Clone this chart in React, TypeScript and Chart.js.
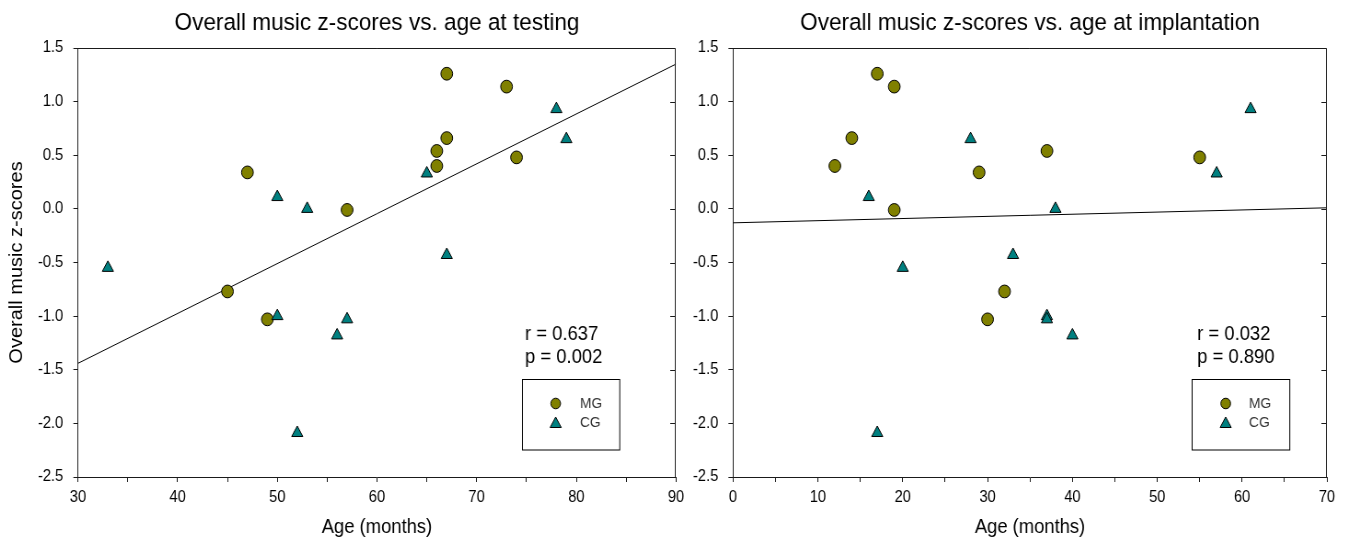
import React, { useEffect, useRef } from "react";
import { Chart, registerables } from "chart.js";

Chart.register(...registerables);

const FONT_FAMILY = "'Liberation Sans', Arial, Helvetica, sans-serif";
const OLIVE = "#808000";
const TEAL = "#008080";
const INK = "#1a1a1a";

// Music group (MG): overall z-score with age at testing / at implantation (months)
const mgScores = [1.26, 1.14, 0.66, 0.54, 0.48, 0.4, 0.34, -0.01, -0.77, -1.03];
const mgAgeTesting = [67, 73, 67, 66, 74, 66, 47, 57, 45, 49];
const mgAgeImplant = [17, 19, 14, 37, 55, 12, 29, 19, 32, 30];

// Control group (CG)
const cgScores = [-0.55, 0.11, 0.0, 0.33, -0.43, 0.93, 0.65, -1.0, -1.18, -1.03, -2.09];
const cgAgeTesting = [33, 50, 53, 65, 67, 78, 79, 50, 56, 57, 52];
const cgAgeImplant = [20, 16, 38, 57, 33, 61, 28, 37, 40, 37, 17];

// Regression line end points
const fitTestingAge = [30, 90];
const fitTestingScore = [-1.44, 1.35];
const fitImplantAge = [0, 70];
const fitImplantScore = [-0.13, 0.01];

const testingStats = ["r = 0.637", "p = 0.002"];
const implantStats = ["r = 0.032", "p = 0.890"];

const groupLabels = ["MG", "CG"];
const scoreRange = [-2.5, 1.5];

const CANVAS_H = 539;
const PLOT_TOP = 48;
const PLOT_BOTTOM = 477;

type PanelSpec = {
  title: string;
  cssLeft: number;
  cssWidth: number;
  width: number;
  areaLeft: number;
  areaRight: number;
  xRange: number[];
  mgX: number[];
  cgX: number[];
  fitX: number[];
  fitY: number[];
  stats: string[];
  yTitle: boolean;
  statsX: number;
  box: { x: number; y: number; w: number; h: number; markerX: number; labelX: number };
};

const panels: PanelSpec[] = [
  {
    title: "Overall music z-scores vs. age at testing",
    cssLeft: 0,
    cssWidth: 684,
    width: 743,
    areaLeft: 84.7,
    areaRight: 734.3,
    xRange: [30, 90],
    mgX: mgAgeTesting,
    cgX: cgAgeTesting,
    fitX: fitTestingAge,
    fitY: fitTestingScore,
    stats: testingStats,
    yTitle: true,
    statsX: 570.3,
    box: { x: 567, y: 378.5, w: 105.7, h: 70.5, markerX: 603.6, labelX: 630 },
  },
  {
    title: "Overall music z-scores vs. age at implantation",
    cssLeft: 684,
    cssWidth: 664,
    width: 722,
    areaLeft: 53.3,
    areaRight: 699.1,
    xRange: [0, 70],
    mgX: mgAgeImplant,
    cgX: cgAgeImplant,
    fitX: fitImplantAge,
    fitY: fitImplantScore,
    stats: implantStats,
    yTitle: false,
    statsX: 558.1,
    box: { x: 552, y: 378.5, w: 106.2, h: 70.5, markerX: 589, labelX: 614.3 },
  },
];

function drawTriangle(ctx: CanvasRenderingContext2D, x: number, y: number, r: number) {
  ctx.beginPath();
  ctx.moveTo(x, y - r);
  ctx.lineTo(x + r * 0.866, y + r * 0.5);
  ctx.lineTo(x - r * 0.866, y + r * 0.5);
  ctx.closePath();
}

function decorPlugin(spec: PanelSpec) {
  return {
    id: "decor",
    afterDraw(chart: any) {
      const { ctx, chartArea: a, scales } = chart;
      ctx.save();

      // top and right frame, with inward ticks on the right side
      ctx.strokeStyle = INK;
      ctx.lineWidth = 1;
      const top = Math.round(a.top) + 0.5;
      const right = Math.round(a.right) - 0.5;
      ctx.beginPath();
      ctx.moveTo(a.left, top);
      ctx.lineTo(right, top);
      ctx.lineTo(right, a.bottom);
      const ys = scales.y;
      ys.ticks.forEach((t: any) => {
        const py = Math.round(ys.getPixelForValue(t.value)) + 0.5;
        ctx.moveTo(right, py);
        ctx.lineTo(right - 5.5, py);
      });
      ctx.stroke();

      // panel title
      ctx.fillStyle = "#000";
      ctx.font = `24.5px ${FONT_FAMILY}`;
      ctx.textAlign = "center";
      ctx.textBaseline = "middle";
      ctx.fillText(spec.title, (a.left + a.right) / 2, 23);

      // correlation statistics
      ctx.font = `20px ${FONT_FAMILY}`;
      ctx.textAlign = "left";
      ctx.fillText(spec.stats[0], spec.statsX, 334);
      ctx.fillText(spec.stats[1], spec.statsX, 357);

      // legend box
      const b = spec.box;
      ctx.strokeStyle = "#000";
      ctx.strokeRect(Math.round(b.x) + 0.5, Math.round(b.y) + 0.5, b.w, b.h);

      ctx.lineWidth = 1;
      ctx.fillStyle = OLIVE;
      ctx.beginPath();
      ctx.arc(b.markerX, 403.5, 5.3, 0, Math.PI * 2);
      ctx.fill();
      ctx.stroke();

      ctx.fillStyle = TEAL;
      drawTriangle(ctx, b.markerX, 424, 7);
      ctx.fill();
      ctx.stroke();

      ctx.fillStyle = "#333";
      ctx.font = `15px ${FONT_FAMILY}`;
      ctx.fillText(groupLabels[0], b.labelX, 404);
      ctx.fillText(groupLabels[1], b.labelX, 423);

      ctx.restore();
    },
  };
}

function buildChart(canvas: HTMLCanvasElement, spec: PanelSpec) {
  const mgPoints = spec.mgX.map((x, i) => ({ x, y: mgScores[i] }));
  const cgPoints = spec.cgX.map((x, i) => ({ x, y: cgScores[i] }));
  const fitPoints = spec.fitX.map((x, i) => ({ x, y: spec.fitY[i] }));

  const axisGrid = {
    display: true,
    drawOnChartArea: false,
    drawTicks: true,
    tickLength: 5,
    color: INK,
    lineWidth: 1,
  };

  return new Chart(canvas, {
    type: "scatter",
    data: {
      datasets: [
        {
          label: groupLabels[1],
          data: cgPoints,
          pointStyle: "triangle",
          pointRadius: 7,
          backgroundColor: TEAL,
          borderColor: "#000",
          borderWidth: 1,
        },
        {
          label: groupLabels[0],
          data: mgPoints,
          pointStyle: "circle",
          pointRadius: 6.4,
          backgroundColor: OLIVE,
          borderColor: "#000",
          borderWidth: 1,
        },
        {
          label: "fit",
          data: fitPoints,
          showLine: true,
          pointRadius: 0,
          borderColor: "#000",
          borderWidth: 1,
          fill: false,
        },
      ],
    },
    options: {
      responsive: false,
      devicePixelRatio: 1,
      animation: false,
      events: [],
      layout: {
        padding: { top: PLOT_TOP, right: spec.width - spec.areaRight, bottom: 0, left: 0 },
      },
      plugins: {
        legend: { display: false },
        tooltip: { enabled: false },
        title: { display: false },
      },
      scales: {
        x: {
          type: "linear",
          position: "bottom",
          min: spec.xRange[0],
          max: spec.xRange[1],
          afterFit: (s: any) => {
            s.height = CANVAS_H - PLOT_BOTTOM;
            s.paddingLeft = 0;
            s.paddingRight = 0;
          },
          ticks: {
            stepSize: 5,
            autoSkip: false,
            maxRotation: 0,
            padding: 6,
            color: "#000",
            font: { family: FONT_FAMILY, size: 16 },
            callback: (v: any) => (Math.round(v) % 10 === 0 ? String(Math.round(v)) : ""),
          },
          grid: axisGrid,
          border: { display: true, color: INK, width: 1 },
          title: {
            display: true,
            text: "Age (months)",
            color: "#000",
            font: { family: FONT_FAMILY, size: 20 },
            padding: { top: 0, bottom: 0 },
          },
        },
        y: {
          type: "linear",
          position: "left",
          min: scoreRange[0],
          max: scoreRange[1],
          afterFit: (s: any) => {
            s.width = spec.areaLeft;
          },
          ticks: {
            stepSize: 0.5,
            autoSkip: false,
            padding: 11,
            color: "#000",
            font: { family: FONT_FAMILY, size: 16 },
            callback: (v: any) => Number(v).toFixed(1),
          },
          grid: axisGrid,
          border: { display: true, color: INK, width: 1 },
          title: {
            display: spec.yTitle,
            text: "Overall music z-scores",
            color: "#000",
            font: { family: FONT_FAMILY, size: 20 },
            padding: { top: 6, bottom: 0 },
          },
        },
      },
    },
    plugins: [decorPlugin(spec)],
  } as any);
}

function Panel({ spec }: { spec: PanelSpec }) {
  const ref = useRef<HTMLCanvasElement | null>(null);
  useEffect(() => {
    if (!ref.current) return;
    const chart = buildChart(ref.current, spec);
    return () => chart.destroy();
  }, [spec]);
  return (
    <canvas
      ref={ref}
      width={spec.width}
      height={CANVAS_H}
      style={{
        position: "absolute",
        left: spec.cssLeft,
        top: 0,
        width: `${spec.cssWidth}px`,
        height: `${CANVAS_H}px`,
      }}
    />
  );
}

export default function App() {
  return (
    <div
      style={{
        position: "fixed",
        left: 0,
        top: 0,
        width: 1348,
        height: CANVAS_H,
        background: "#fff",
        overflow: "hidden",
      }}
    >
      {panels.map((p) => (
        <Panel key={p.title} spec={p} />
      ))}
    </div>
  );
}
